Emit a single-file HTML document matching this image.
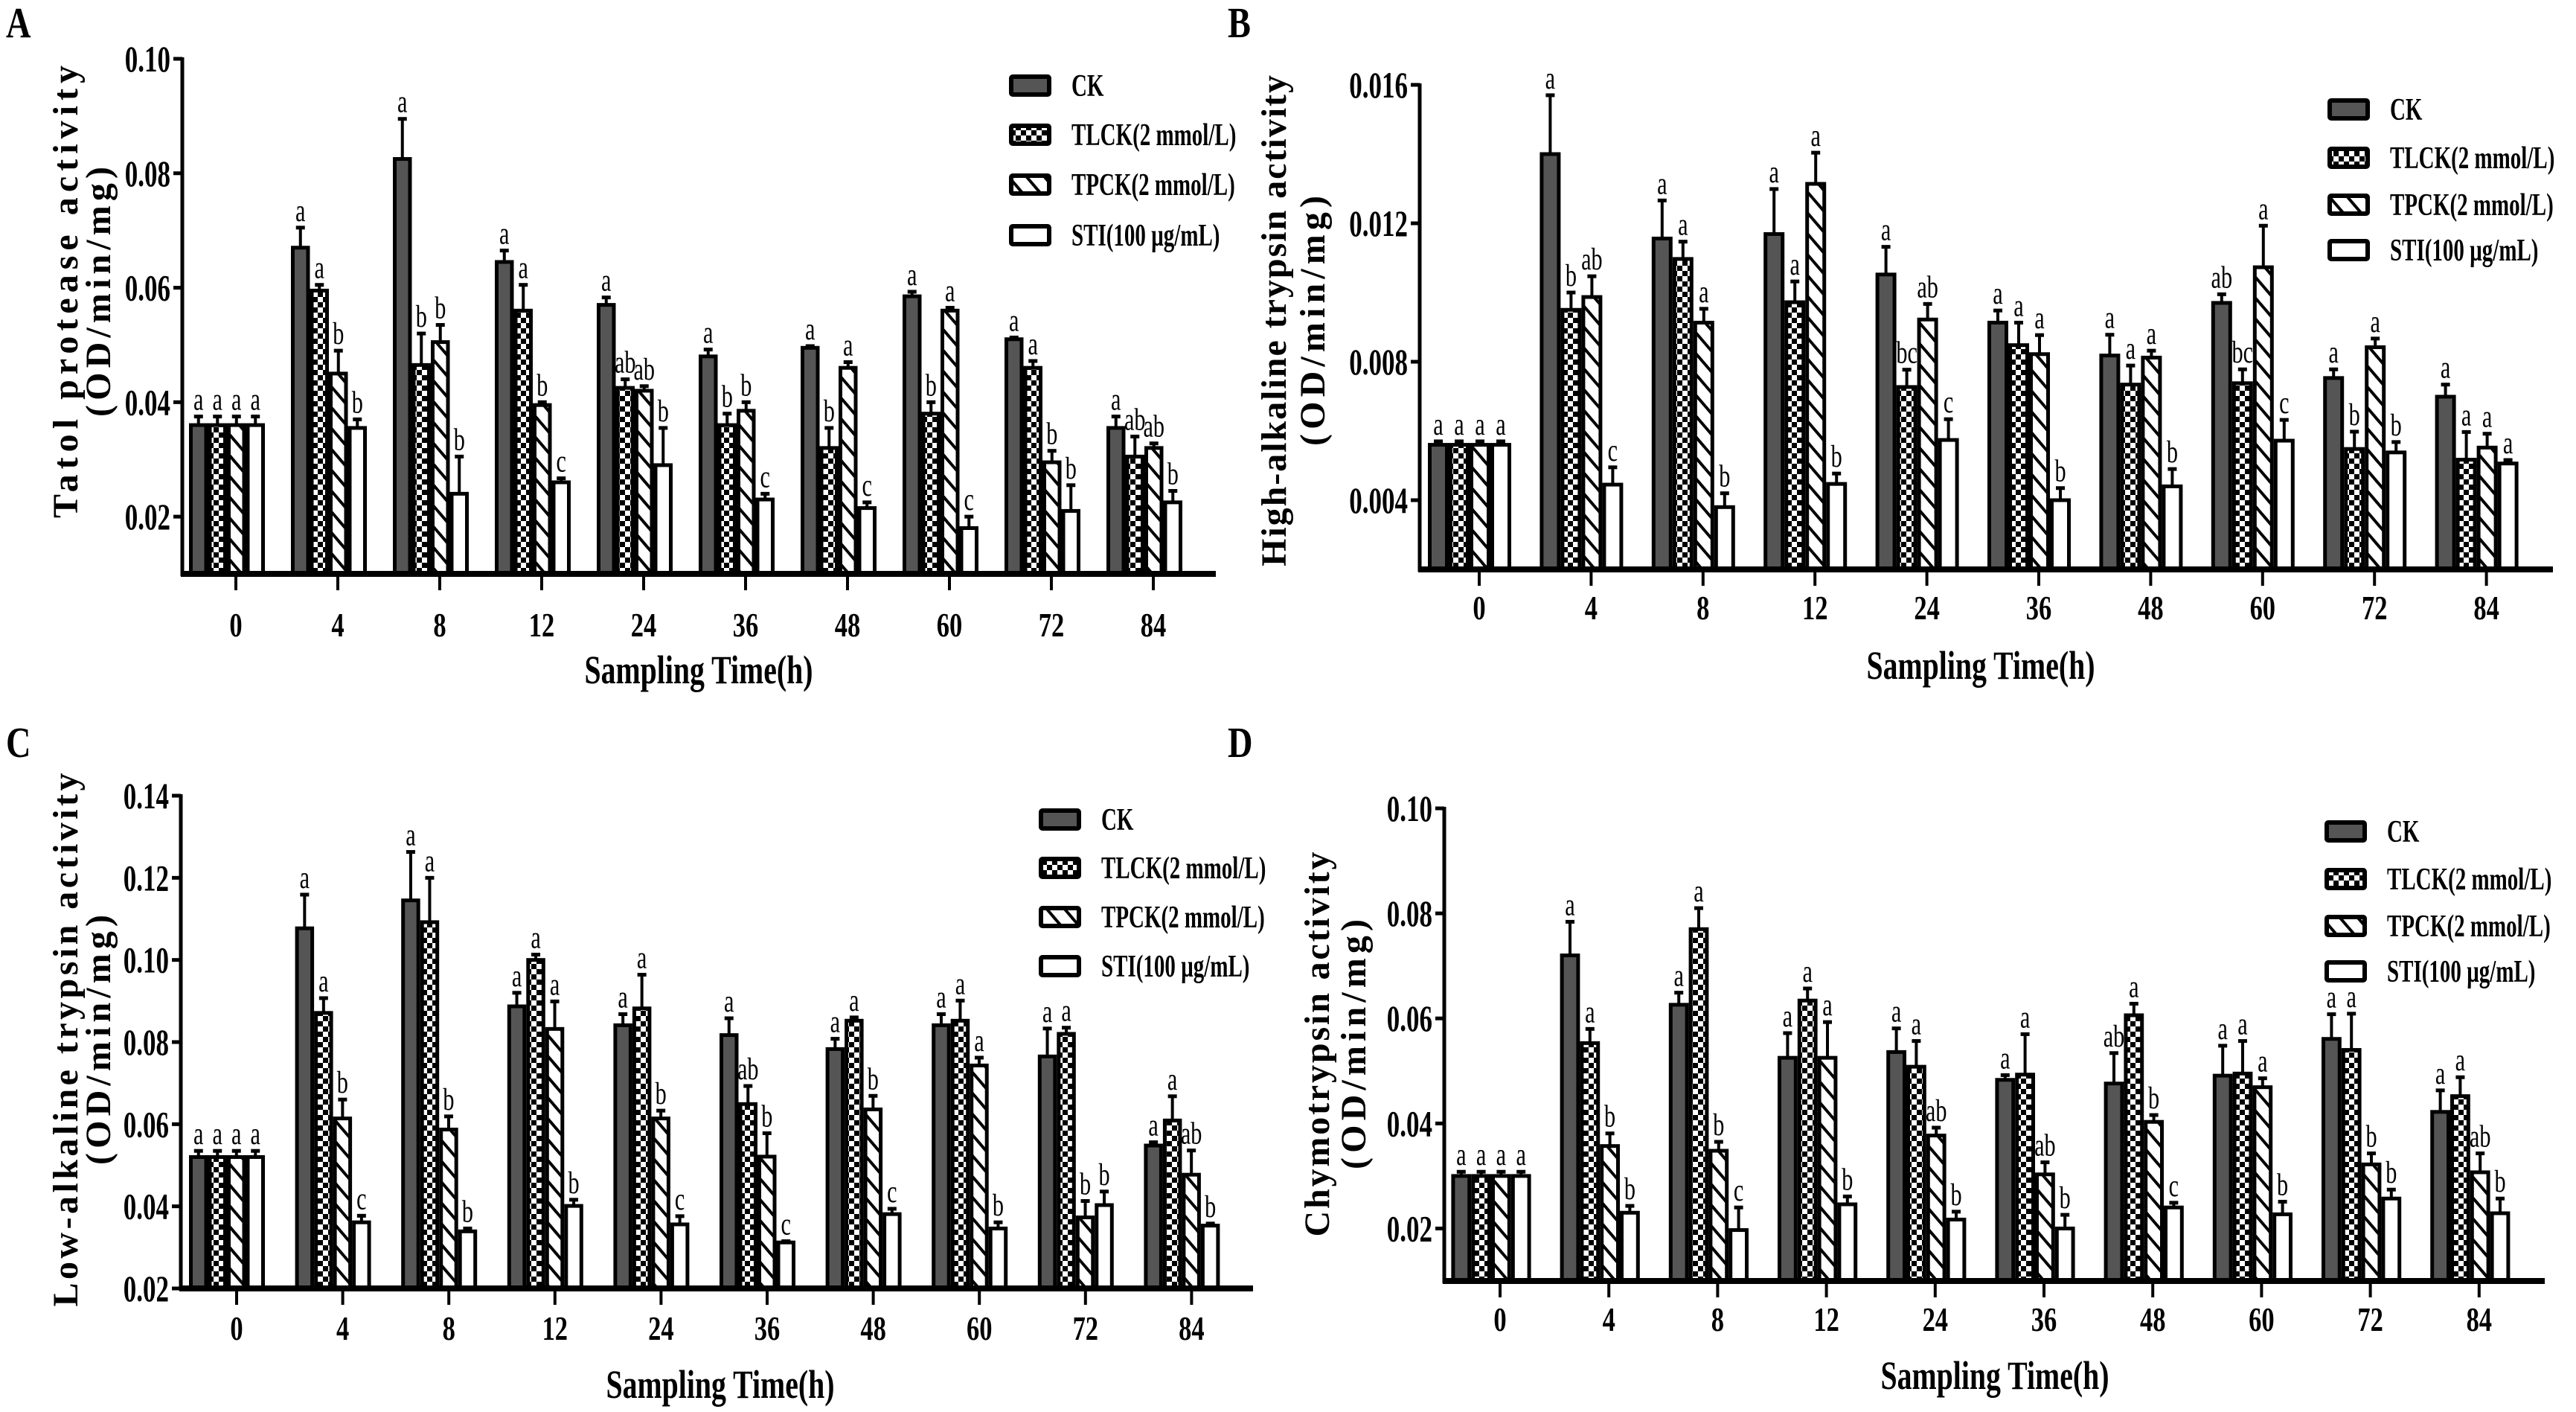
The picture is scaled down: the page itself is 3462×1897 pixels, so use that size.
<!DOCTYPE html>
<html><head><meta charset="utf-8"><style>
html,body{margin:0;padding:0;background:#fff;}
svg{display:block;}
text{font-family:"Liberation Serif",serif;}
</style></head><body>
<svg id="fig" xmlns="http://www.w3.org/2000/svg" width="3462" height="1897" viewBox="0 0 3462 1897">
<defs>
<pattern id="checker" patternUnits="userSpaceOnUse" width="14" height="14">
<rect width="14" height="14" fill="#000"/><rect x="0" y="0" width="7" height="7" fill="#fff"/><rect x="7" y="7" width="7" height="7" fill="#fff"/>
</pattern>
<pattern id="hatch" patternUnits="userSpaceOnUse" width="24" height="28">
<rect width="24" height="28" fill="#fff"/>
<line x1="-12" y1="-14" x2="12" y2="14" stroke="#000" stroke-width="4"/>
<line x1="12" y1="14" x2="36" y2="42" stroke="#000" stroke-width="4"/>
<line x1="12" y1="-14" x2="36" y2="14" stroke="#000" stroke-width="4"/>
<line x1="-12" y1="14" x2="12" y2="42" stroke="#000" stroke-width="4"/>
</pattern>
</defs>
</svg>
<script>
const categories = ['0','4','8','12','24','36','48','60','72','84'];
const seriesNames = ['CK','TLCK(2 mmol/L)','TPCK(2 mmol/L)','STI(100 \u00b5g/mL)'];

// Panel A
const A_CK   = [0.036,0.067,0.0825,0.0645,0.057,0.048,0.0495,0.0585,0.051,0.0355];
const A_TLCK = [0.036,0.0595,0.0465,0.056,0.0425,0.036,0.032,0.038,0.046,0.0305];
const A_TPCK = [0.036,0.045,0.0505,0.0395,0.042,0.0385,0.046,0.056,0.0295,0.032];
const A_STI  = [0.036,0.0355,0.024,0.026,0.029,0.023,0.0215,0.018,0.021,0.0225];
const A_CK_err   = [0.0015,0.0035,0.007,0.002,0.0013,0.0012,0.0003,0.0008,0.0003,0.002];
const A_TLCK_err = [0.0015,0.001,0.0055,0.0045,0.0015,0.002,0.0035,0.002,0.0012,0.0035];
const A_TPCK_err = [0.0015,0.004,0.003,0.0005,0.0008,0.0015,0.001,0.0005,0.002,0.0008];
const A_STI_err  = [0.0015,0.0015,0.0065,0.0007,0.0065,0.001,0.001,0.002,0.0045,0.002];
const A_letters = ['a a a a','a a b b','a b b b','a a b c','a ab ab b','a b b c','a b a c','a b a c','a a b b','a ab ab b'];
const A_ticks = [0.02,0.04,0.06,0.08,0.10];
const A_tickLabels = ['0.02','0.04','0.06','0.08','0.10'];

// Panel B
const B_CK   = [0.0056,0.0140,0.01156,0.01169,0.01052,0.00913,0.00818,0.0097,0.00753,0.00699];
const B_TLCK = [0.0056,0.0095,0.01097,0.00972,0.00727,0.00848,0.00734,0.00738,0.00548,0.00517];
const B_TPCK = [0.0056,0.00987,0.00913,0.01314,0.00922,0.00822,0.00812,0.01073,0.00842,0.00552];
const B_STI  = [0.0056,0.00445,0.0038,0.00447,0.00574,0.0040,0.0044,0.00572,0.00538,0.00506];
const B_CK_err   = [0.0001,0.0017,0.0011,0.0013,0.0008,0.00035,0.0006,0.00025,0.00025,0.00035];
const B_TLCK_err = [0.0001,0.0005,0.0005,0.0006,0.0005,0.00065,0.00055,0.0004,0.0005,0.0008];
const B_TPCK_err = [0.0001,0.0006,0.0004,0.0009,0.00045,0.00055,0.0002,0.0012,0.00025,0.0004];
const B_STI_err  = [0.0001,0.0005,0.0004,0.0003,0.0006,0.00035,0.0005,0.0006,0.0003,0.0001];
const B_letters = ['a a a a','a b ab c','a a a b','a a a b','a bc ab c','a a a b','a a a b','ab bc a c','a b a b','a a a a'];
const B_ticks = [0.004,0.008,0.012,0.016];
const B_tickLabels = ['0.004','0.008','0.012','0.016'];

// Panel C
const C_CK   = [0.052,0.1077,0.1145,0.0887,0.0841,0.0817,0.0783,0.0841,0.0765,0.0548];
const C_TLCK = [0.052,0.0871,0.1092,0.1000,0.0882,0.0649,0.0852,0.0852,0.082,0.0609];
const C_TPCK = [0.052,0.0614,0.0587,0.0832,0.0614,0.0521,0.0636,0.0743,0.0373,0.0477];
const C_STI  = [0.052,0.0361,0.0339,0.0401,0.0356,0.0312,0.0381,0.0346,0.0403,0.0353];
const C_CK_err   = [0.0015,0.0082,0.0118,0.0033,0.0027,0.0041,0.0025,0.0027,0.0068,0.0008];
const C_TLCK_err = [0.0015,0.0036,0.0108,0.0013,0.0082,0.0044,0.0008,0.0049,0.0015,0.0059];
const C_TPCK_err = [0.0015,0.0046,0.0032,0.0067,0.0019,0.0057,0.0033,0.0019,0.004,0.0059];
const C_STI_err  = [0.0015,0.0016,0.0007,0.0015,0.002,0.0003,0.0013,0.0015,0.0033,0.0005];
const C_letters = ['a a a a','a a b c','a a b b','a a a b','a a b c','a ab b c','a a b c','a a a b','a a b b','a a ab b'];
const C_ticks = [0.02,0.04,0.06,0.08,0.10,0.12,0.14];
const C_tickLabels = ['0.02','0.04','0.06','0.08','0.10','0.12','0.14'];

// Panel D
const D_CK   = [0.030,0.072,0.0626,0.0525,0.0536,0.0483,0.0476,0.0491,0.0561,0.0422];
const D_TLCK = [0.030,0.0553,0.077,0.0634,0.0508,0.0493,0.0606,0.0495,0.054,0.0452];
const D_TPCK = [0.030,0.0357,0.0348,0.0525,0.0377,0.0303,0.0403,0.0469,0.0322,0.0307];
const D_STI  = [0.030,0.023,0.0197,0.0246,0.0217,0.020,0.024,0.0227,0.0257,0.0229];
const D_CK_err   = [0.0008,0.0064,0.0023,0.0047,0.0045,0.0009,0.0058,0.0057,0.0047,0.0041];
const D_TLCK_err = [0.0008,0.0027,0.004,0.0023,0.0049,0.0077,0.0022,0.0062,0.0069,0.0036];
const D_TPCK_err = [0.0008,0.0024,0.0017,0.0068,0.0015,0.0023,0.0013,0.0017,0.0021,0.0036];
const D_STI_err  = [0.0008,0.0013,0.0043,0.0015,0.0015,0.0026,0.0009,0.0024,0.0017,0.0028];
const D_letters = ['a a a a','a a b b','a a b c','a a a b','a a ab b','a a ab b','ab a b c','a a a b','a a b b','a a ab b'];
const D_ticks = [0.02,0.04,0.06,0.08,0.10];
const D_tickLabels = ['0.02','0.04','0.06','0.08','0.10'];

const NS = 'http://www.w3.org/2000/svg';
const svg = document.getElementById('fig');
const fills = ['#555555','url(#checker)','url(#hatch)','#ffffff'];
const sKeys = ['ck','tlck','tpck','sti'];

function mk(tag, attrs, parent) {
  const e = document.createElementNS(NS, tag);
  for (const k in attrs) e.setAttribute(k, attrs[k]);
  (parent || svg).appendChild(e);
  return e;
}
function txt(str, x, y, size, opts, parent) {
  const t = mk('text', {x: 0, y: 0, 'font-size': size, 'font-weight': 'bold',
    'text-anchor': opts.anchor || 'start',
    transform: 'translate(' + x + ',' + y + ') scale(' + (opts.sx || 0.75) + ',1)'}, parent);
  if (opts.sans) t.setAttribute('font-family', '"Liberation Sans", sans-serif');
  if (opts.normal) t.setAttribute('font-weight', 'normal');
  t.textContent = str;
  return t;
}

function drawPanel(p, series, errs, letters, ticks, tickLabels) {
  const g = mk('g', {});
  
  
  const yS = v => p.yTop + (p.vTop - v) / (p.vTop - p.vMin) * (p.base - p.yTop);
  const xS = i => p.t0 + i * p.step;

  categories.forEach((c, i) => {
    const gc = xS(i) + p.off;
    const left = gc - 2 * p.bw;
    for (let s = 0; s < 4; s++) {
      const v = series[s][i], e = errs[s][i];
      const x = left + s * p.bw;
      const yt = yS(v);
      const r = mk('rect', {x: x + 2.5, y: yt, width: p.bw - 5, height: p.base - yt,
        fill: fills[s], stroke: '#000', 'stroke-width': 5}, g);
      
      
      const ye = yS(v + e);
      const cx = x + p.bw / 2;
      const el = mk('line', {x1: cx, y1: yt, x2: cx, y2: ye, stroke: '#000', 'stroke-width': 4}, g);
      
      
      mk('rect', {x: cx - 6, y: ye - 2.5, width: 12, height: 5, fill: '#000'}, g);
      const lt = txt(letters[i].split(' ')[s], cx, ye - 9, 42, {anchor: 'middle', sans: 1, normal: 1, sx: 0.72}, g);
      
      
    }
    mk('line', {x1: xS(i), y1: p.base, x2: xS(i), y2: p.base + 22, stroke: '#000', 'stroke-width': 4}, g);
    const xl = txt(c, xS(i), p.xLabY, 46, {anchor: 'middle'}, g);
    
    
  });

  const ya = mk('line', {x1: p.ax, y1: p.yTop - 2, x2: p.ax, y2: p.base + 3, stroke: '#000', 'stroke-width': 5}, g);
  
  
  const xa = mk('line', {x1: p.ax - 2, y1: p.base, x2: p.axEnd, y2: p.base, stroke: '#000', 'stroke-width': 8}, g);
  
  
  ticks.forEach((t, k) => {
    const y = yS(t);
    mk('line', {x1: p.ax - 12, y1: y, x2: p.ax, y2: y, stroke: '#000', 'stroke-width': 5}, g);
    const tl = txt(tickLabels[k], p.ax - 16, y + 17, 50, {anchor: 'end', sx: 0.7}, g);
    
    
  });

  const xt = mk('text', {x: p.xTitleX, y: p.xTitleY, 'font-size': 54, 'font-weight': 'bold', 'text-anchor': 'middle',
    textLength: 307, lengthAdjust: 'spacingAndGlyphs'}, g);
  xt.textContent = 'Sampling Time(h)';
  
  
  const yt1 = mk('text', {x: 0, y: 0, 'font-size': 48, 'font-weight': 'bold', 'text-anchor': 'middle',
    textLength: p.t1Len, lengthAdjust: 'spacing', transform: 'translate(' + (p.t1x + 16) + ',' + p.tCy + ') rotate(-90)'}, g);
  yt1.textContent = p.title1;
  
  
  const yt2 = mk('text', {x: 0, y: 0, 'font-size': 48, 'font-weight': 'bold', 'text-anchor': 'middle',
    textLength: 336, lengthAdjust: 'spacing', transform: 'translate(' + (p.t2x + 16) + ',' + p.tCy + ') rotate(-90)'}, g);
  yt2.textContent = '(OD/min/mg)';
  
  

  seriesNames.forEach((n, s) => {
    const ly = p.legY[s];
    const lg = mk('g', {}, g);
    
    
    mk('rect', {x: p.legX + 3, y: ly + 3, width: 51, height: 24, rx: 2, fill: fills[s], stroke: '#000', 'stroke-width': 6}, lg);
    txt(n, p.legX + 84, ly + 29, 42, {sx: 0.69}, lg);
  });

  const pl = txt(p.id, p.lx, p.ly, 58, {sans: 1, sx: 0.8}, g);
  
  
}

drawPanel({id: 'A', ax: 245, axEnd: 1634, yTop: 79, base: 771, vTop: 0.10, vMin: 0.01,
  t0: 317, step: 137, bw: 25.5, off: -12, xLabY: 855, xTitleX: 939, xTitleY: 918,
  title1: 'Tatol protease activity', t1Len: 608, t1x: 88, t2x: 132, tCy: 392,
  legX: 1356, legY: [100, 166, 233, 301], lx: 8, ly: 50},
  [A_CK, A_TLCK, A_TPCK, A_STI], [A_CK_err, A_TLCK_err, A_TPCK_err, A_STI_err], A_letters, A_ticks, A_tickLabels);

drawPanel({id: 'B', ax: 1908, axEnd: 3431, yTop: 114, base: 765, vTop: 0.016, vMin: 0.002,
  t0: 1988, step: 150.4, bw: 28, off: -13, xLabY: 832, xTitleX: 2662, xTitleY: 912,
  title1: 'High-alkaline trypsin activity', t1Len: 660, t1x: 1712, t2x: 1764, tCy: 431,
  legX: 3128, legY: [132, 197, 260, 321], lx: 1650, ly: 50},
  [B_CK, B_TLCK, B_TPCK, B_STI], [B_CK_err, B_TLCK_err, B_TPCK_err, B_STI_err], B_letters, B_ticks, B_tickLabels);

drawPanel({id: 'C', ax: 243, axEnd: 1684, yTop: 1069, base: 1731, vTop: 0.14, vMin: 0.02,
  t0: 318, step: 142.6, bw: 25.5, off: -13, xLabY: 1800, xTitleX: 968, xTitleY: 1878,
  title1: 'Low-alkaline trypsin activity', t1Len: 717, t1x: 88, t2x: 132, tCy: 1397,
  legX: 1396, legY: [1086, 1151, 1217, 1283], lx: 8, ly: 1017},
  [C_CK, C_TLCK, C_TPCK, C_STI], [C_CK_err, C_TLCK_err, C_TPCK_err, C_STI_err], C_letters, C_ticks, C_tickLabels);

drawPanel({id: 'D', ax: 1941, axEnd: 3420, yTop: 1086, base: 1721, vTop: 0.10, vMin: 0.01,
  t0: 2016, step: 146.2, bw: 26.8, off: -12, xLabY: 1788, xTitleX: 2681, xTitleY: 1866,
  title1: 'Chymotrypsin activity', t1Len: 517, t1x: 1770, t2x: 1819, tCy: 1403,
  legX: 3124, legY: [1102, 1166, 1229, 1290], lx: 1650, ly: 1017},
  [D_CK, D_TLCK, D_TPCK, D_STI], [D_CK_err, D_TLCK_err, D_TPCK_err, D_STI_err], D_letters, D_ticks, D_tickLabels);
</script>
</body></html>
